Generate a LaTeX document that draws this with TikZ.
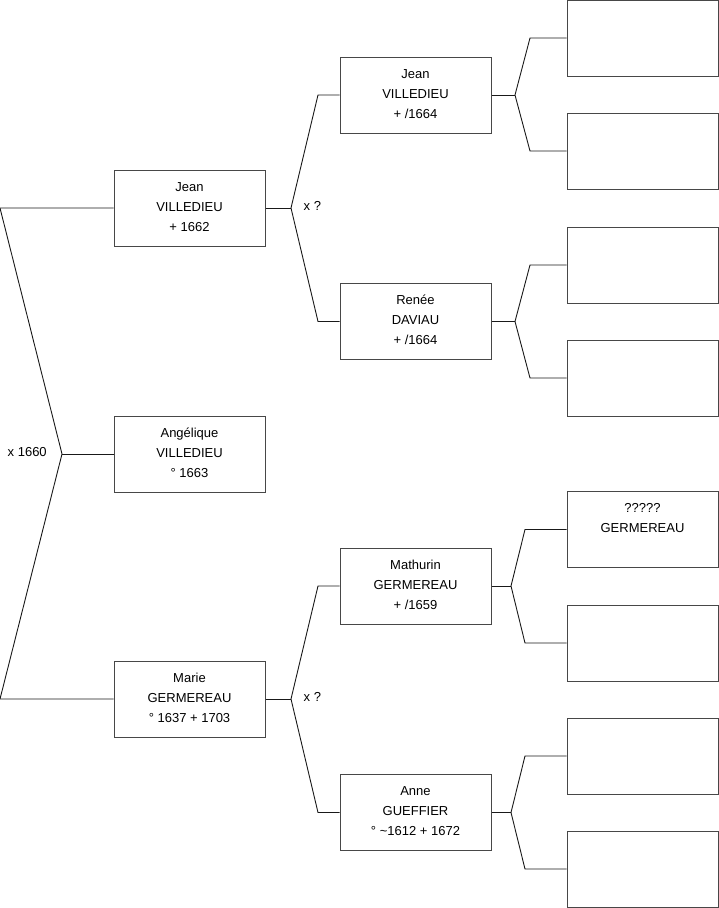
\documentclass[tikz,border=0pt]{standalone}
\usepackage{fontspec}
\setmainfont{Liberation Sans}
\newcommand\mystrut{\rule[-7pt]{0pt}{20pt}}
\begin{document}
\begin{tikzpicture}[x=1pt,y=-1pt,
  person/.style={draw=black!72, line width=1pt, minimum width=151pt, minimum height=76pt,
    inner sep=0pt, align=center, font=\fontsize{13}{20}\selectfont},
  link/.style={draw=black!90, line width=0.9pt, line join=miter},
  lbl/.style={font=\fontsize{13}{15}\selectfont, inner sep=0pt, anchor=base west}]
\useasboundingbox (0,0) rectangle (719,908);
% generation 1
\node[person] (p1) at (189.5,208) {\mystrut Jean\\\mystrut VILLEDIEU\\\mystrut + 1662};
\node[person] (p2) at (189.5,454) {\mystrut Angélique\\\mystrut VILLEDIEU\\\mystrut ° 1663};
\node[person] (p3) at (189.5,699) {\mystrut Marie\\\mystrut GERMEREAU\\\mystrut ° 1637 + 1703};
% generation 2
\node[person] (g1) at (415.5,95) {\mystrut Jean\\\mystrut VILLEDIEU\\\mystrut + /1664};
\node[person] (g2) at (415.5,321.5) {\mystrut Renée\\\mystrut DAVIAU\\\mystrut + /1664};
\node[person] (g3) at (415.5,586) {\mystrut Mathurin\\\mystrut GERMEREAU\\\mystrut + /1659};
\node[person] (g4) at (415.5,812.5) {\mystrut Anne\\\mystrut GUEFFIER\\\mystrut ° \textasciitilde1612 + 1672};
% generation 3
\node[person] (h1) at (642.5,38) {};
\node[person] (h2) at (642.5,151) {};
\node[person] (h3) at (642.5,265) {};
\node[person] (h4) at (642.5,378) {};
\node[person] (h5) at (642.5,529.5) {\mystrut ?????\\\mystrut GERMEREAU\\\mystrut};
\node[person] (h6) at (642.5,643) {};
\node[person] (h7) at (642.5,756) {};
\node[person] (h8) at (642.5,869) {};
% gen 1 bracket
\coordinate (L1) at (0,208);
\coordinate (L3) at (0,699);
\coordinate (V0) at (62,454);
\draw[link] (p1.west) -- (L1) -- (V0) -- (L3) -- (p3.west);
\draw[link] (V0) -- (p2.west);
\node[lbl] (m0) at (7.5,456.7) {x 1660};
% gen 1 -> gen 2
\coordinate (V1) at (291,208);
\coordinate (A1) at (318,95);
\coordinate (A2) at (318,321.5);
\draw[link] (p1.east) -- (V1);
\draw[link] (g1.west) -- (A1) -- (V1) -- (A2) -- (g2.west);
\node[lbl] (m1) at (303.5,210.7) {x ?};
\coordinate (V2) at (291,699);
\coordinate (B1) at (318,586);
\coordinate (B2) at (318,812.5);
\draw[link] (p3.east) -- (V2);
\draw[link] (g3.west) -- (B1) -- (V2) -- (B2) -- (g4.west);
\node[lbl] (m2) at (303.5,701.7) {x ?};
% gen 2 -> gen 3
\coordinate (W1) at (515,95);
\coordinate (C1) at (530,38);
\coordinate (C2) at (530,151);
\draw[link] (g1.east) -- (W1);
\draw[link] (h1.west) -- (C1) -- (W1) -- (C2) -- (h2.west);
\coordinate (W2) at (515,321.5);
\coordinate (C3) at (530,265);
\coordinate (C4) at (530,378);
\draw[link] (g2.east) -- (W2);
\draw[link] (h3.west) -- (C3) -- (W2) -- (C4) -- (h4.west);
\coordinate (W3) at (511,586);
\coordinate (C5) at (525,529.5);
\coordinate (C6) at (525,643);
\draw[link] (g3.east) -- (W3);
\draw[link] (h5.west) -- (C5) -- (W3) -- (C6) -- (h6.west);
\coordinate (W4) at (511,812.5);
\coordinate (C7) at (525,756);
\coordinate (C8) at (525,869);
\draw[link] (g4.east) -- (W4);
\draw[link] (h7.west) -- (C7) -- (W4) -- (C8) -- (h8.west);
\end{tikzpicture}
\end{document}
